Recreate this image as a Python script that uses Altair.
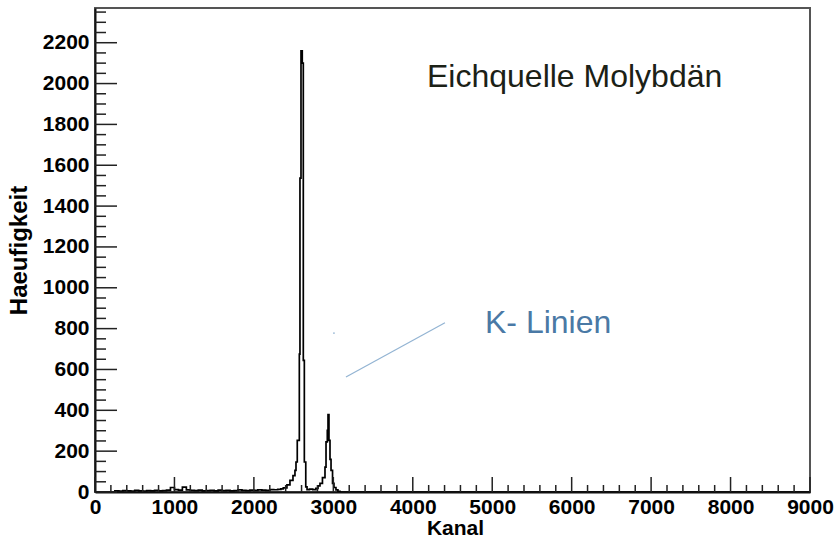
import altair as alt
import pandas as pd

# ---- histogram (bin left edge in channels, counts) ----
channel = [0, 250, 300, 350, 400, 450, 500, 550, 600, 650, 700, 750, 800, 850, 900,
           950, 1000, 1050, 1100, 1150, 1200, 1250, 1300, 1350, 1400, 1450, 1500, 1550,
           1600, 1650, 1700, 1750, 1800, 1850, 1900, 1950, 2000, 2050, 2100, 2150, 2200,
           2250, 2300, 2340, 2370, 2416, 2454, 2492, 2517, 2530, 2546, 2572, 2580, 2593,
           2609, 2622, 2635, 2653, 2669, 2700, 2740, 2780, 2807, 2832, 2863, 2895, 2908,
           2924, 2933, 2945, 2958, 2971, 2990, 3008, 3033, 3058, 3084, 9000]
counts = [0, 6, 5, 7, 6, 5, 8, 6, 5, 7, 6, 8, 6, 7, 9,
          22, 12, 9, 24, 10, 8, 7, 9, 6, 7, 8, 6, 9,
          7, 8, 6, 7, 10, 8, 7, 9, 8, 10, 9, 8, 12,
          11, 13, 15, 20, 35, 57, 80, 106, 147, 253, 675, 1537, 2160,
          2100, 645, 147, 25, 12, 14, 12, 18, 30, 42, 70, 122, 245,
          302, 379, 253, 160, 106, 42, 22, 10, 3, 0, 0]

# ---- axis ticks ----
x_major = [0, 1000, 2000, 3000, 4000, 5000, 6000, 7000, 8000, 9000]
y_major = [0, 200, 400, 600, 800, 1000, 1200, 1400, 1600, 1800, 2000, 2200]
x_minor = [v for v in range(200, 9000, 200) if v % 1000 != 0]
y_minor = [v for v in range(50, 2370, 50) if v % 200 != 0]

# ---- annotations (data coordinates) ----
title_text = ["Eichquelle Molybdän"]
title_pos = [4179, 1981]
label_text = ["K- Linien"]
label_pos = [4909, 777]
pointer_x = [3159, 4405]
pointer_y = [563, 829]
dot_pos = [3008, 778]

W, H = 715, 484
FONT = "Liberation Sans"

xs = alt.Scale(domain=[0, 9000], nice=False, zero=False)
ys = alt.Scale(domain=[0, 2370], nice=False, zero=False)

x_axis = alt.Axis(
    values=x_major, ticks=False, grid=False, format="d", title="Kanal",
    labelFont=FONT, labelFontSize=21, labelFontWeight="bold", labelColor="black",
    labelPadding=4, labelFlush=False, labelOverlap=False,
    titleFont=FONT, titleFontSize=21, titleFontWeight="bold", titleColor="black",
    titleX=360, titleY=36, titleBaseline="middle", titleAlign="center",
    domainColor="#111", domainWidth=2)
y_axis = alt.Axis(
    values=y_major, ticks=False, grid=False, format="d", title="Haeufigkeit",
    labelFont=FONT, labelFontSize=21, labelFontWeight="bold", labelColor="black",
    labelPadding=6, labelFlush=False, labelOverlap=False,
    titleFont=FONT, titleFontSize=24, titleFontWeight="bold", titleColor="black",
    titleX=-76, titleY=242, titleAngle=270, titleBaseline="middle", titleAlign="center",
    domainColor="#111", domainWidth=2)

def X(field):
    return alt.X(field, scale=xs, axis=x_axis, title="Kanal")

def Y(field):
    return alt.Y(field, scale=ys, axis=y_axis, title="Haeufigkeit")

df = pd.DataFrame({"channel": channel, "counts": counts})

hist = alt.Chart(df).mark_line(
    interpolate="step-after", color="black", strokeWidth=1.7, clip=True
).encode(x=X("channel:Q"), y=Y("counts:Q"))

def xticks(vals, length):
    return alt.Chart(pd.DataFrame({"v": vals})).mark_rule(color="#222", strokeWidth=1.5).encode(
        x=X("v:Q"), y=alt.value(H), y2=alt.value(H - length))

def yticks(vals, length):
    return alt.Chart(pd.DataFrame({"v": vals})).mark_rule(color="#222", strokeWidth=1.5).encode(
        y=Y("v:Q"), x=alt.value(0), x2=alt.value(length))

title = alt.Chart(pd.DataFrame({"x": [title_pos[0]], "y": [title_pos[1]], "t": title_text})).mark_text(
    align="left", baseline="alphabetic", font=FONT, fontSize=32, color="#1b2116"
).encode(x=X("x:Q"), y=Y("y:Q"), text="t:N")

klabel = alt.Chart(pd.DataFrame({"x": [label_pos[0]], "y": [label_pos[1]], "t": label_text})).mark_text(
    align="left", baseline="alphabetic", font=FONT, fontSize=32, color="#4a79a5"
).encode(x=X("x:Q"), y=Y("y:Q"), text="t:N")

pointer = alt.Chart(pd.DataFrame({"x": pointer_x, "y": pointer_y})).mark_line(
    color="#93b4d3", strokeWidth=1.2
).encode(x=X("x:Q"), y=Y("y:Q"))

dot = alt.Chart(pd.DataFrame({"x": [dot_pos[0]], "y": [dot_pos[1]]})).mark_circle(
    size=3, color="#93b4d3", opacity=1
).encode(x=X("x:Q"), y=Y("y:Q"))

chart = alt.layer(
    hist, xticks(x_major, 15), xticks(x_minor, 7), yticks(y_major, 22), yticks(y_minor, 11),
    pointer, dot, title, klabel
).properties(
    width=W, height=H,
    autosize=alt.AutoSizeParams(type="none"),
    padding={"left": 95, "top": 8, "right": 28, "bottom": 58},
    background="white",
).configure_view(stroke="#555", strokeWidth=2)

chart.save("out.html", embed_options={"renderer": "svg", "actions": False})
